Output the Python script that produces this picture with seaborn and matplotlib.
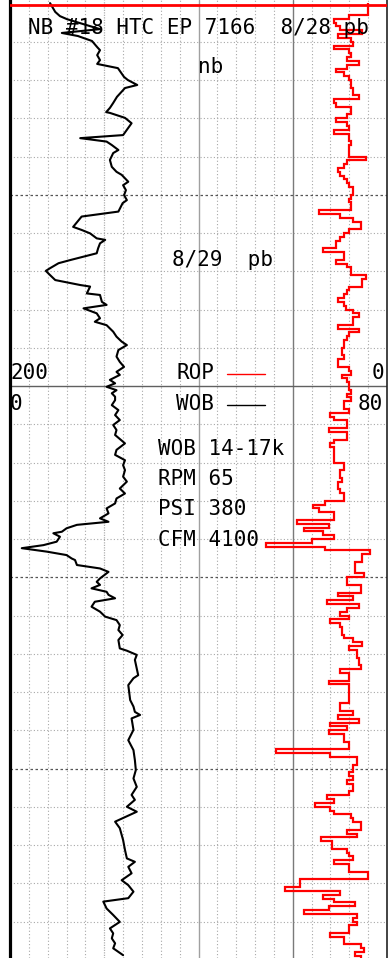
import numpy as np
import matplotlib
matplotlib.use("Agg")
import matplotlib.pyplot as plt
from matplotlib.lines import Line2D
import seaborn as sns

# Weight on bit (klb) against depth (ft below top of the run)
wob_depth = [-0.1, 2.2, 3.3, 4.1, 6.7, 7.7, 8.5, 9.8, 11.4, 12.2, 13.5, 14.8, 15.8, 16.9,
             19.2, 20.0, 21.3, 22.1, 24.4, 26.0, 27.3, 28.4, 28.6, 29.9, 31.3, 34.4, 35.2,
             36.1, 37.0, 38.3, 39.1, 40.9, 42.7, 44.0, 44.8, 46.6, 47.5, 48.8, 50.1, 51.4,
             52.2, 54.4, 55.7, 58.4, 59.2, 60.1, 61.4, 61.8, 62.7, 64.0, 65.3, 67.1, 67.9,
             69.2, 69.9, 71.0, 72.3, 73.6, 74.0, 75.8, 76.2, 78.0, 78.8, 79.7, 81.0, 82.3,
             83.2, 84.1, 85.8, 87.1, 88.4, 89.3, 90.6, 92.3, 93.7, 95.0, 96.3, 97.1, 98.4,
             99.3, 100.2, 101.1, 101.9, 102.8, 103.7, 105.0, 106.3, 107.6, 108.9, 110.2,
             111.5, 112.8, 115.0, 116.7, 118.0, 119.4, 120.7, 122.0, 123.7, 125.0, 126.8,
             128.1, 129.4, 130.7, 132.0, 133.3, 134.6, 135.5, 136.3, 137.2, 138.1, 138.5,
             139.4, 140.7, 141.6, 142.4, 143.3, 144.2, 145.1, 145.5, 146.8, 147.7, 148.6,
             150.3, 151.2, 152.0, 152.9, 153.8, 154.6, 155.5, 156.4, 157.7, 159.0, 160.3,
             161.2, 162.5, 163.8, 165.1, 166.4, 168.6, 169.2, 170.3, 171.6, 175.6, 176.4,
             178.2, 182.1, 183.8, 185.2, 186.0, 186.9, 189.9, 192.6, 195.2, 197.8, 200.4,
             202.6, 204.8, 206.9, 208.2, 210.0, 211.3, 213.9, 215.6, 218.7, 221.3, 223.5,
             224.4, 225.7, 227.4, 229.2, 230.5, 232.2, 233.9, 234.8, 236.6, 238.3, 240.1,
             241.8, 243.1, 244.4, 245.7, 247.0, 248.8]
wob_klb = [8.5, 9.6, 10.6, 12.1, 19.1, 11.0, 14.4, 17.4, 18.5, 19.1, 18.5, 19.1, 18.5, 22.9,
           24.2, 25.0, 27.0, 24.4, 22.7, 21.9, 21.2, 20.4, 21.2, 24.4, 25.8, 24.0, 14.9,
           20.5, 21.6, 23.0, 21.9, 21.2, 21.6, 22.6, 23.7, 25.1, 24.0, 24.6, 24.2, 24.8,
           23.9, 23.0, 15.2, 13.4, 15.2, 17.0, 18.4, 20.2, 19.1, 18.7, 18.4, 12.7, 10.3,
           8.5, 7.6, 8.5, 9.6, 14.9, 17.0, 16.3, 19.1, 19.5, 20.5, 15.6, 18.4, 19.1,
           18.0, 20.5, 21.9, 22.6, 23.7, 24.8, 23.0, 22.6, 23.3, 24.2, 22.6, 23.3, 21.2,
           22.3, 20.5, 22.6, 21.6, 22.3, 22.3, 21.6, 23.0, 22.3, 23.3, 21.9,
           22.6, 22.3, 24.4, 22.6, 22.3, 24.4, 24.0, 24.4, 24.0, 24.8, 23.3,
           24.4, 22.6, 22.3, 20.5, 20.9, 19.1, 20.9, 14.2, 12.0, 11.0, 9.2,
           10.6, 9.9, 7.1, 2.5, 7.8, 12.0, 13.1, 13.8, 14.2, 19.1, 20.9,
           19.1, 18.4, 19.1, 17.3, 20.5, 20.9, 22.3, 18.0, 17.3, 19.1, 20.2,
           22.6, 23.3, 23.0, 23.9, 23.0, 23.3, 24.8, 26.9, 26.5, 27.2, 26.2,
           25.1, 25.5, 26.2, 26.5, 27.6, 25.8, 26.2, 25.1, 26.2, 26.5, 26.7,
           26.2, 26.9, 25.8, 26.5, 24.8, 26.9, 22.3, 23.3, 24.0, 24.4, 24.8,
           26.5, 25.1, 25.8, 23.7, 25.1, 26.2, 25.1, 19.8, 20.5, 21.9, 23.3,
           21.2, 21.9, 21.6, 22.3, 21.9, 24.0]

# Rate of penetration (ft/hr), one reading per foot
rop_fph = [10, 10, 10, 20, 28, 27, 25, 13, 26, 19, 18, 28, 20, 19, 21, 15, 21, 27, 23, 20,
           19, 19, 18, 18, 15, 28, 27, 19, 19, 21, 27,
           21, 20, 28, 20, 20, 19, 20, 20, 20, 11, 21, 23, 26, 25, 23, 21, 20, 18, 18,
           19, 20, 19, 19, 36, 25, 18, 14, 14, 20, 23, 25, 27, 27, 34, 23, 23,
           27, 21, 19, 19, 11, 13, 13, 20, 21, 23, 26, 23, 22, 18, 15, 18, 18, 26, 15,
           20, 21, 23, 23, 24, 24,
           23, 26, 26, 20, 19, 24, 21, 20, 20, 19, 21, 19,
           23, 23, 20, 30, 28, 21, 21, 31, 21, 21, 28, 30, 28, 28, 28, 28, 23, 23, 25,
           25, 24, 26, 26, 25, 23, 23, 33, 39, 36, 28, 28, 48, 31, 44, 34, 28, 40, 64,
           33, 9, 13,
           13, 17, 17, 17, 12, 21, 21, 14, 14, 26, 18, 32, 15, 21, 25, 20, 30, 25, 24,
           24, 23, 18, 13, 20, 16, 16, 15, 15, 14, 25, 20, 20, 31, 20, 20, 20,
           20, 20, 25, 25, 18, 26, 15, 30, 21, 31, 23, 23, 20, 20, 59, 30, 16, 16, 18,
           18, 20, 18, 21, 18, 18, 20, 32, 28, 38, 30, 28, 19, 18, 14, 14,
           21, 16, 35, 29, 29, 21, 20, 18, 28, 20, 20, 10, 10, 46, 46, 54, 25, 34, 28,
           17, 31, 44, 16, 18, 16, 20, 20, 30, 23, 23, 14, 12, 17, 14]
rop_edges = np.arange(len(rop_fph) + 1)

header = "NB #18 HTC EP 7166  8/28 pb"
note_top = "nb"
note_day = "8/29  pb"
params = ["WOB 14-17k", "RPM 65", "PSI 380", "CFM 4100"]

sns.set_style("white")
plt.rcParams["font.family"] = ["DejaVu Sans Mono", "DejaVu Sans"]
plt.rcParams["text.color"] = "black"

W, H = 389, 958
fig = plt.figure(figsize=(W / 100, H / 100), dpi=100)
ax = fig.add_axes([10 / W, 0, 377 / W, 1])
ax.set_xlim(0, 80)
ax.set_ylim(249.54, -0.915)
ax.set_xticks([])
ax.set_yticks([])
for side in ("top", "bottom"):
    ax.spines[side].set_visible(False)
ax.spines["left"].set_color("black")
ax.spines["left"].set_linewidth(2.3)
ax.spines["right"].set_color("#222222")
ax.spines["right"].set_linewidth(1.2)

# track grid: 20 divisions across, 10 ft down
for v in np.arange(4, 80, 4):
    if v == 40:
        ax.axvline(v, color="#a0a0a0", lw=1.0, zorder=0.5)
    elif v == 60:
        ax.axvline(v, color="#7a7a7a", lw=1.0, zorder=0.5)
    elif v == 20:
        ax.axvline(v, color="#b0b0b0", lw=0.9, ls=(0, (1, 1)), zorder=0.5)
    else:
        ax.axvline(v, color="#a8a8a8", lw=0.8, ls=(0, (1, 2)), zorder=0.5)
for d in range(10, 250, 10):
    if d == 100:
        ax.axhline(d, color="#606060", lw=1.0, zorder=0.5)
    elif d % 50 == 0:
        ax.axhline(d, color="#555555", lw=0.9, ls=(0, (2, 2)), zorder=0.5)
    else:
        ax.axhline(d, color="#a8a8a8", lw=0.8, ls=(0, (1, 2)), zorder=0.5)

# top of the log
ax.axhline(0.5, color="red", lw=2.0, zorder=4)

sns.lineplot(x=wob_klb, y=wob_depth, ax=ax, orient="y", sort=False, estimator=None,
             color="black", lw=1.5, legend=False, zorder=3)
ax.set_xlabel("")
ax.set_ylabel("")

ax_rop = ax.twiny()
ax_rop.set_xlim(200, 0)
ax_rop.set_xticks([])
for side in ax_rop.spines:
    ax_rop.spines[side].set_visible(False)
ax_rop.stairs(rop_fph, rop_edges, orientation="horizontal", baseline=None,
              color="red", lw=1.6, zorder=3)
ax_rop.set_ylim(249.54, -0.915)

FS = 15


def put(x, y, s, **kw):
    fig.text(x / W, 1 - y / H, s, fontsize=FS, va="baseline", ha="left",
             color="black", **kw)


put(28, 34, header)
put(198, 73, note_top)
put(171.5, 266, note_day)

# scale captions
put(10, 379, "200")
put(176, 379, "ROP")
put(372, 379, "0")
put(10, 410, "0")
put(176, 410, "WOB")
put(358, 410, "80")
fig.add_artist(Line2D([227 / W, 265 / W], [1 - 374 / H] * 2, color="red", lw=1.0))
fig.add_artist(Line2D([227 / W, 265 / W], [1 - 405 / H] * 2, color="black", lw=1.0))

for i, s in enumerate(params):
    put(158, 455 + 30.2 * i, s)

fig.savefig("out.png", dpi=100)
